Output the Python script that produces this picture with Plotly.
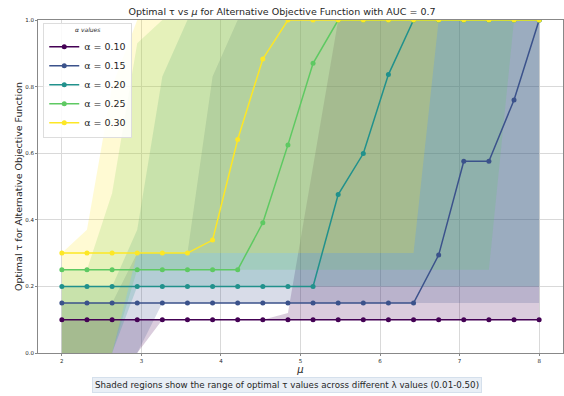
import numpy as np
import plotly.graph_objects as go

# mu grid (20 evenly spaced values)
mu = np.linspace(2, 8, 20)

alphas = [0.10, 0.15, 0.20, 0.25, 0.30]
colors = ["#440154", "#3b528b", "#21918c", "#5ec962", "#fde725"]
fill_colors = ["rgba(68,1,84,0.2)", "rgba(59,82,139,0.2)", "rgba(33,145,140,0.2)",
               "rgba(94,201,98,0.2)", "rgba(253,231,37,0.2)"]

# optimal tau (reference lambda) per alpha
tau_a10 = [0.10] * 20
tau_a15 = [0.15] * 15 + [0.294, 0.576, 0.576, 0.760, 1.0]
tau_a20 = [0.20] * 11 + [0.476, 0.599, 0.836] + [1.0] * 6
tau_a25 = [0.25] * 8 + [0.391, 0.625, 0.870] + [1.0] * 9
tau_a30 = [0.30] * 6 + [0.339, 0.641, 0.883] + [1.0] * 11

# range of optimal tau across lambda values (min / max)
low_a10 = [0.0, 0.0, 0.0, 0.0] + [0.10] * 16
high_a10 = [0.10] * 9 + [0.12, 0.56] + [1.0] * 9
low_a15 = [0.0, 0.0, 0.0, 0.0] + [0.15] * 16
high_a15 = [0.15, 0.15, 0.15, 0.30, 0.30, 0.30, 0.83] + [1.0] * 13
low_a20 = [0.0, 0.0, 0.0] + [0.20] * 17
high_a20 = [0.20, 0.20, 0.20, 0.37, 0.83] + [1.0] * 15
low_a25 = [0.0, 0.0, 0.0] + [0.25] * 15 + [1.0, 1.0]
high_a25 = [0.25, 0.25, 0.48, 0.93] + [1.0] * 16
low_a30 = [0.0, 0.0, 0.0] + [0.30] * 12 + [1.0] * 5
high_a30 = [0.30, 0.37, 0.80] + [1.0] * 17

taus = [tau_a10, tau_a15, tau_a20, tau_a25, tau_a30]
lows = [low_a10, low_a15, low_a20, low_a25, low_a30]
highs = [high_a10, high_a15, high_a20, high_a25, high_a30]

fig = go.Figure()

mu_list = list(mu)
for a, fc, lo, hi in zip(alphas, fill_colors, lows, highs):
    fig.add_trace(go.Scatter(
        x=mu_list + mu_list[::-1],
        y=list(hi) + list(lo)[::-1],
        fill="toself", fillcolor=fc, mode="none",
        line=dict(width=0), hoverinfo="skip", showlegend=False,
    ))

for a, c, t in zip(alphas, colors, taus):
    fig.add_trace(go.Scatter(
        x=mu_list, y=t, mode="lines+markers",
        name=f"α = {a:.2f}",
        line=dict(color=c, width=1.5),
        marker=dict(color=c, size=5),
    ))

font_family = "DejaVu Sans"

fig.update_layout(
    width=564, height=396,
    margin=dict(l=38, r=1, t=19.5, b=43),
    paper_bgcolor="white", plot_bgcolor="white",
    font=dict(family=font_family, color="#262626"),
    title=dict(
        text="Optimal τ vs <i>μ</i> for Alternative Objective Function with AUC = 0.7",
        x=0.5, xanchor="center", y=1 - 12 / 396, yanchor="middle",
        font=dict(size=9.5, color="#262626"),
    ),
    showlegend=True,
    legend=dict(
        x=0.01, y=0.99, xanchor="left", yanchor="top",
        bgcolor="rgba(255,255,255,0.85)", bordercolor="#dddddd", borderwidth=1,
        font=dict(size=9.5, color="#262626"),
        title=dict(text="<i>α values</i>", side="top center", font=dict(size=6)),
        tracegroupgap=0, itemwidth=30,
    ),
    xaxis=dict(
        range=[1.7, 8.3], tickmode="array", tickvals=[2, 3, 4, 5, 6, 7, 8],
        ticktext=["2", "3", "4", "5", "6", "7", "8"],
        tickfont=dict(size=5.5), ticks="outside", ticklen=2, tickcolor="#888",
        showgrid=True, gridcolor="#d9d9d9", gridwidth=1,
        showline=True, linecolor="#888888", linewidth=1, mirror=True,
        zeroline=False,
        title=dict(text="<i>μ</i>", font=dict(size=10), standoff=1),
    ),
    yaxis=dict(
        range=[0, 1.0], tickmode="array", tickvals=[0, 0.2, 0.4, 0.6, 0.8, 1.0],
        ticktext=["0.0", "0.2", "0.4", "0.6", "0.8", "1.0"],
        tickfont=dict(size=5.5), ticks="outside", ticklen=2, tickcolor="#888",
        showgrid=True, gridcolor="#d9d9d9", gridwidth=1,
        showline=True, linecolor="#888888", linewidth=1, mirror=True,
        zeroline=False,
        title=dict(text="Optimal τ for Alternative Objective Function",
                   font=dict(size=9.5), standoff=0),
    ),
    annotations=[dict(
        text="Shaded regions show the range of optimal τ values across different λ values (0.01-0.50)",
        xref="paper", yref="paper", x=0.475, y=-0.0975,
        xanchor="center", yanchor="middle", showarrow=False,
        font=dict(size=8.7, color="#262626"),
        bgcolor="#e9eff6", bordercolor="#d5e0ec", borderwidth=1, borderpad=2,
    )],
)

fig.write_html("out.html")
